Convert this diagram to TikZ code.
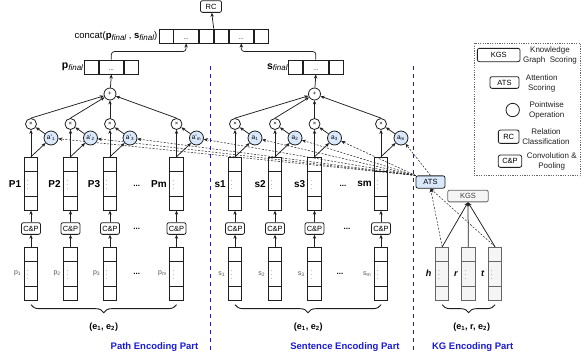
\documentclass[tikz,border=0pt]{standalone}
\usepackage{fontspec}
\setmainfont{Liberation Sans}
\usepackage{xcolor}
\usetikzlibrary{arrows.meta,positioning,decorations.pathreplacing}
\definecolor{InkLine}{HTML}{1F1F1F}
\definecolor{GrayLine}{HTML}{666666}
\definecolor{GrayFill}{HTML}{F5F5F5}
\definecolor{AttFill}{HTML}{DAE8FC}
\definecolor{PartBlue}{HTML}{1A1AD8}
\definecolor{LabelGray}{HTML}{555555}
\tikzset{
  vecbox/.style={
    draw=InkLine,
    line width=0.9pt,
    minimum width=13.3pt,
    minimum height=53pt,
    inner sep=0pt,
  },
  kgvec/.style={
    vecbox,
    draw=GrayLine,
    fill=GrayFill,
  },
  cell/.style={
    draw=InkLine,
    line width=0.9pt,
    minimum height=14pt,
    inner sep=0pt,
    anchor=west,
    text height=7pt,
    text depth=0pt,
    font=\fontsize{6}{6}\selectfont,
  },
  opbox/.style={
    rounded corners=2pt,
    draw=InkLine,
    line width=0.8pt,
    fill=white,
    inner sep=0pt,
    minimum height=11.7pt,
    font=\fontsize{7.5}{8}\selectfont,
  },
  opcircle/.style={
    circle,
    draw=InkLine,
    line width=0.8pt,
    fill=white,
    minimum size=11pt,
    inner sep=0pt,
    font=\fontsize{6}{6}\selectfont,
  },
  attcircle/.style={
    circle,
    draw=InkLine,
    line width=0.8pt,
    fill=AttFill,
    minimum size=14pt,
    inner sep=0pt,
    font=\fontsize{6.5}{7}\selectfont,
  },
  flow/.style={
    -{Stealth[length=4pt,width=3.4pt]},
    line width=0.75pt,
    draw=InkLine,
  },
  dashflow/.style={
    flow,
    line width=0.5pt,
    dash pattern=on 2pt off 1.5pt,
  },
  divider/.style={
    draw=PartBlue,
    line width=1.2pt,
    dash pattern=on 4pt off 4pt,
  },
  brace/.style={
    decorate,
    decoration={brace, mirror, amplitude=8pt},
    line width=0.9pt,
    draw=InkLine,
  },
  veclabel/.style={font=\bfseries\fontsize{10}{12}\selectfont, inner sep=0.5pt},
  inlabel/.style={font=\fontsize{7}{8}\selectfont, text=LabelGray, inner sep=0.5pt},
  kglabel/.style={font=\bfseries\itshape\fontsize{9}{11}\selectfont, inner sep=0.5pt},
  pairlabel/.style={font=\bfseries\fontsize{9}{11}\selectfont},
  partlabel/.style={font=\bfseries\fontsize{9.5}{11}\selectfont, text=PartBlue},
  legendtext/.style={font=\fontsize{8}{10}\selectfont, align=center, text=InkLine},
}

\begin{document}
\begin{tikzpicture}[x=1pt, y=-1pt]
  \useasboundingbox (0,0) rectangle (586,362);

  % relation classification on the joined vector
  \node[opbox, minimum width=21pt] (rc) at (211,6.5) {RC};
  \node[cell, minimum width=14pt] (cc1) at (158.5,36) {};
  \node[cell, minimum width=24.5pt] (cc2) at (cc1.east) {...};
  \node[cell, minimum width=14pt] (cc3) at (cc2.east) {};
  \node[cell, minimum width=14pt] (cc4) at (cc3.east) {};
  \node[cell, minimum width=24.5pt] (cc5) at (cc4.east) {...};
  \node[cell, minimum width=14pt] (cc6) at (cc5.east) {};
  \node[anchor=east, inner sep=0.5pt, font=\fontsize{9.5}{11}\selectfont] (catlab) at (158,36.5) {%
    concat(\textbf{p}\raisebox{-1.5pt}{\fontsize{8}{8}\selectfont\itshape final} ,
    \textbf{s}\raisebox{-1.5pt}{\fontsize{8}{8}\selectfont\itshape final})};

  % final path / sentence vectors
  \node[cell, minimum width=14.3pt] (pf1) at (83.7,67) {};
  \node[cell, minimum width=24pt] (pf2) at (pf1.east) {...};
  \node[cell, minimum width=14.4pt] (pf3) at (pf2.east) {};
  \node[anchor=east, inner sep=0.5pt, font=\bfseries\fontsize{10.5}{12}\selectfont] at (pf1.west) {%
    p\raisebox{-1.5pt}{\fontsize{8}{8}\selectfont\mdseries\itshape final}};
  \node[cell, minimum width=14pt] (sf1) at (288.3,67) {};
  \node[cell, minimum width=24.4pt] (sf2) at (sf1.east) {...};
  \node[cell, minimum width=14.3pt] (sf3) at (sf2.east) {};
  \node[anchor=east, inner sep=0.5pt, font=\bfseries\fontsize{10.5}{12}\selectfont] at (sf1.west) {%
    s\raisebox{-1.5pt}{\fontsize{8}{8}\selectfont\mdseries\itshape final}};

  \node[opcircle, minimum size=12pt] (pplus) at (110,94) {+};
  \node[opcircle, minimum size=12pt] (splus) at (314.5,94) {+};

  \draw[flow] (cc3.north east) -- (rc);
  \draw[flow, rounded corners=3pt] (pf2.north) -- ++(0,-8) -| (cc2.south);
  \draw[flow, rounded corners=3pt] (sf2.north) -- ++(0,-8) -| (cc5.south);
  \draw[flow] (pplus) -- (pf2.south);
  \draw[flow] (splus) -- (sf2.south);

  % knowledge graph part
  \node[opbox, fill=AttFill, minimum width=29pt, minimum height=12.3pt] (ats) at (430.5,182) {ATS};
  \node[opbox, fill=GrayFill, draw=GrayLine, text=InkLine!85, minimum width=40.6pt] (kgs) at (468,196) {KGS};
  \node[kgvec] (kh) at (442.2,273.7) {};
  \node[kgvec] (kr) at (468.3,273.7) {};
  \node[kgvec] (kt) at (495,273.7) {};
  \foreach \cur/\nm in {kh/h, kr/r, kt/t} {
    \draw[line width=0.9pt, draw=GrayLine]
      ([yshift=-14.5pt]\cur.north west) -- ([yshift=-14.5pt]\cur.north east)
      ([yshift=14.5pt]\cur.south west) -- ([yshift=14.5pt]\cur.south east);
    \node[font=\tiny] at ([xshift=4pt,yshift=1.5pt]\cur.west) {$\vdots$};
    \node[kglabel, left=3pt of \cur] {\nm};
    \draw[flow] (\cur.north) -- (kgs.south);
  }
  \draw[dashflow] (kh.north) -- (ats.south);
  \draw[dashflow] (kt.north) -- (ats.south);

  % path encoding columns
  \foreach \i/\x/\tag/\sub/\from in {1/31/P1/1/north west, 2/70.5/P2/2/north west,
                                    3/110/P3/3/north west, 4/176.5/Pm/m/north west} {
    \node[vecbox] (pin\i) at (\x,273.7) {};
    \node[vecbox] (pv\i) at (\x,183.7) {};
    \node[opbox, minimum width=19pt] (pcp\i) at (\x,228.5) {C\&P};
    \node[opcircle] (pmul\i) at (\x,124) {×};
    \node[attcircle] (patt\i) at ({\x+20},138) {a'\textsubscript{\sub}};
    \node[veclabel, left=2pt of pv\i] {\tag};
    \node[inlabel, left=2pt of pin\i] {p\textsubscript{\sub}};
    \foreach \cur in {pin\i, pv\i} {
      \draw[line width=0.9pt, draw=InkLine]
        ([yshift=-14.5pt]\cur.north west) -- ([yshift=-14.5pt]\cur.north east)
        ([yshift=14.5pt]\cur.south west) -- ([yshift=14.5pt]\cur.south east);
      \node[font=\tiny] at ([xshift=4pt,yshift=1.5pt]\cur.west) {$\vdots$};
    }
    \draw[flow] (pin\i) -- (pcp\i);
    \draw[flow] (pcp\i) -- (pv\i);
    \draw[flow] (pv\i.north) -- (pmul\i);
    \draw[flow] (pv\i.north) -- (patt\i);
    \draw[flow] (patt\i) -- (pmul\i);
    \draw[flow] (pmul\i.north) -- (pplus);
    \draw[dashflow] (ats.\from) -- (patt\i);
  }

  % sentence encoding columns
  \foreach \i/\x/\tag/\sub/\from in {1/235/s1/1/north west, 2/275/s2/2/north west,
                                    3/314.5/s3/3/north west, 4/381/sm/m/north} {
    \node[vecbox] (sin\i) at (\x,273.7) {};
    \node[vecbox] (sv\i) at (\x,183.7) {};
    \node[opbox, minimum width=19pt] (scp\i) at (\x,228.5) {C\&P};
    \node[opcircle] (smul\i) at (\x,124) {×};
    \node[attcircle] (satt\i) at ({\x+20},138) {a\textsubscript{\sub}};
    \node[veclabel, left=1.5pt of sv\i] {\tag};
    \node[inlabel, left=2pt of sin\i] {s\textsubscript{\sub}};
    \foreach \cur in {sin\i, sv\i} {
      \draw[line width=0.9pt, draw=InkLine]
        ([yshift=-14.5pt]\cur.north west) -- ([yshift=-14.5pt]\cur.north east)
        ([yshift=14.5pt]\cur.south west) -- ([yshift=14.5pt]\cur.south east);
      \node[font=\tiny] at ([xshift=4pt,yshift=1.5pt]\cur.west) {$\vdots$};
    }
    \draw[flow] (sin\i) -- (scp\i);
    \draw[flow] (scp\i) -- (sv\i);
    \draw[flow] (sv\i.north) -- (smul\i);
    \draw[flow] (sv\i.north) -- (satt\i);
    \draw[flow] (satt\i) -- (smul\i);
    \draw[flow] (smul\i.north) -- (splus);
    \draw[dashflow] (ats.\from) -- (satt\i);
  }

  % gaps between columns
  \foreach \x/\y in {136.7/186, 136.7/228.5, 136.7/274, 343/186, 347/228.5, 340/274} {
    \node[font=\bfseries\fontsize{8}{8}\selectfont] at (\x,\y) {...};
  }

  % braces and part titles
  \draw[brace] ([yshift=-4pt]pin1.south) -- ([yshift=-4pt]pin4.south);
  \draw[brace] ([yshift=-4pt]sin1.south) -- ([yshift=-4pt]sin4.south);
  \draw[brace] ([yshift=-4pt]kh.south) -- ([yshift=-4pt]kt.south);
  \node[pairlabel] at (103.7,327.3) {(e\textsubscript{1}, e\textsubscript{2})};
  \node[pairlabel] at (308.3,327.3) {(e\textsubscript{1}, e\textsubscript{2})};
  \node[pairlabel] at (471.7,327.3) {(e\textsubscript{1}, r, e\textsubscript{2})};
  \node[partlabel] at (154.5,346.7) {Path Encoding Part};
  \node[partlabel] at (345,346.7) {Sentence Encoding Part};
  \node[partlabel] at (472.7,346.7) {KG Encoding Part};

  \draw[divider] (210.7,66) -- (210.7,352);
  \draw[divider] (413.3,66) -- (413.3,352);

  % legend
  \node[draw=GrayLine, line width=0.7pt, dash pattern=on 1.2pt off 1.2pt,
        minimum width=106.7pt, minimum height=132.4pt, inner sep=0pt] (legend) at (527.3,109.5) {};
  \node[opbox, minimum width=42.7pt, minimum height=13.3pt] (lgkgs) at (498.7,55) {KGS};
  \node[legendtext] at (550,55) {Knowledge\\Graph\ \ Scoring};
  \node[opbox, minimum width=29pt] (lgats) at (504.5,82.5) {ATS};
  \node[legendtext] at (541.7,83.5) {Attention\\Scoring};
  \node[opcircle, minimum size=13.4pt] (lgop) at (512.7,110) {};
  \node[legendtext] at (546.7,110) {Pointwise\\Operation};
  \node[opbox, minimum width=20.7pt, minimum height=13.3pt] (lgrc) at (508.7,136.7) {RC};
  \node[legendtext] at (546,137) {Relation\\Classification};
  \node[opbox, minimum width=23.4pt, minimum height=12.3pt] (lgcp) at (510,161.2) {C\&P};
  \node[legendtext] at (551.7,161.7) {Convolution \&\\Pooling};
\end{tikzpicture}
\end{document}
